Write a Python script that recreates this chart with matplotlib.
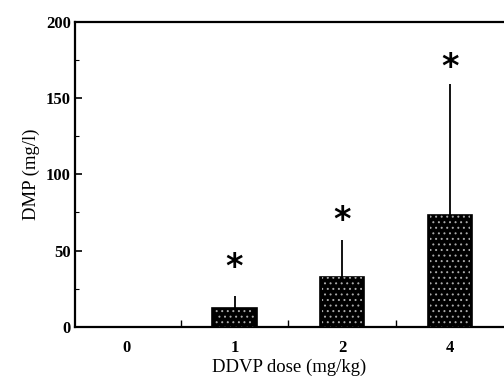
import numpy as np
import matplotlib
matplotlib.use("Agg")
import matplotlib.pyplot as plt
from matplotlib.ticker import MultipleLocator

doses = ["0", "1", "2", "4"]
dmp_mean = [0.0, 12.5, 32.5, 73.0]
dmp_sd = [0.0, 7.5, 24.5, 86.0]
star_y = [None, 39, 70, 170]

plt.rcParams["font.family"] = ["Liberation Serif", "DejaVu Serif"]
plt.rcParams["hatch.linewidth"] = 0.7

fig = plt.figure(figsize=(5.04, 3.85), dpi=100)
ax = fig.add_axes([75 / 504, 1 - 327 / 385, 1 - 75 / 504, (327 - 21.5) / 385])

x = np.arange(len(doses))
ax.bar(x, dmp_mean, width=0.41, color="black", edgecolor="black", linewidth=1.2, zorder=2)
# speckle texture on top of the dark bars
ax.bar(x, dmp_mean, width=0.37, facecolor="none", edgecolor="#aaaaaa", hatch="...",
       linewidth=0, zorder=3)
ax.errorbar(x, dmp_mean, yerr=[np.zeros(len(x)), dmp_sd], fmt="none", ecolor="black",
            elinewidth=1.3, capsize=0, zorder=1)
for xi, sy in zip(x, star_y):
    if sy is not None:
        ax.text(xi, sy, "*", ha="center", va="center", fontsize=24, fontweight="bold",
                family="DejaVu Sans")

ax.set_xlim(-0.48, 3.5)
ax.set_ylim(0, 200)
ax.set_xticks(x)
ax.set_xticklabels(doses, fontsize=12, fontweight="bold")
ax.set_xticks([0.5, 1.5, 2.5], minor=True)
ax.tick_params(axis="x", which="major", length=0, pad=9)
ax.tick_params(axis="x", which="minor", direction="in", length=5, width=1)
ax.set_yticks([0, 50, 100, 150, 200])
ax.yaxis.set_minor_locator(MultipleLocator(25))
ax.tick_params(axis="y", which="major", direction="in", length=5, width=1.2, labelsize=12, pad=3)
ax.tick_params(axis="y", which="minor", direction="in", length=3, width=0.8)
for lab in ax.get_yticklabels():
    lab.set_fontweight("bold")
ax.spines["right"].set_visible(False)
for s in ["left", "bottom", "top"]:
    ax.spines[s].set_linewidth(1.6)

ax.set_xlabel("DDVP dose (mg/kg)", fontsize=13.5, labelpad=2)
ax.set_ylabel("DMP (mg/l)", fontsize=13.5, labelpad=4)

fig.savefig("out.png", dpi=100)
